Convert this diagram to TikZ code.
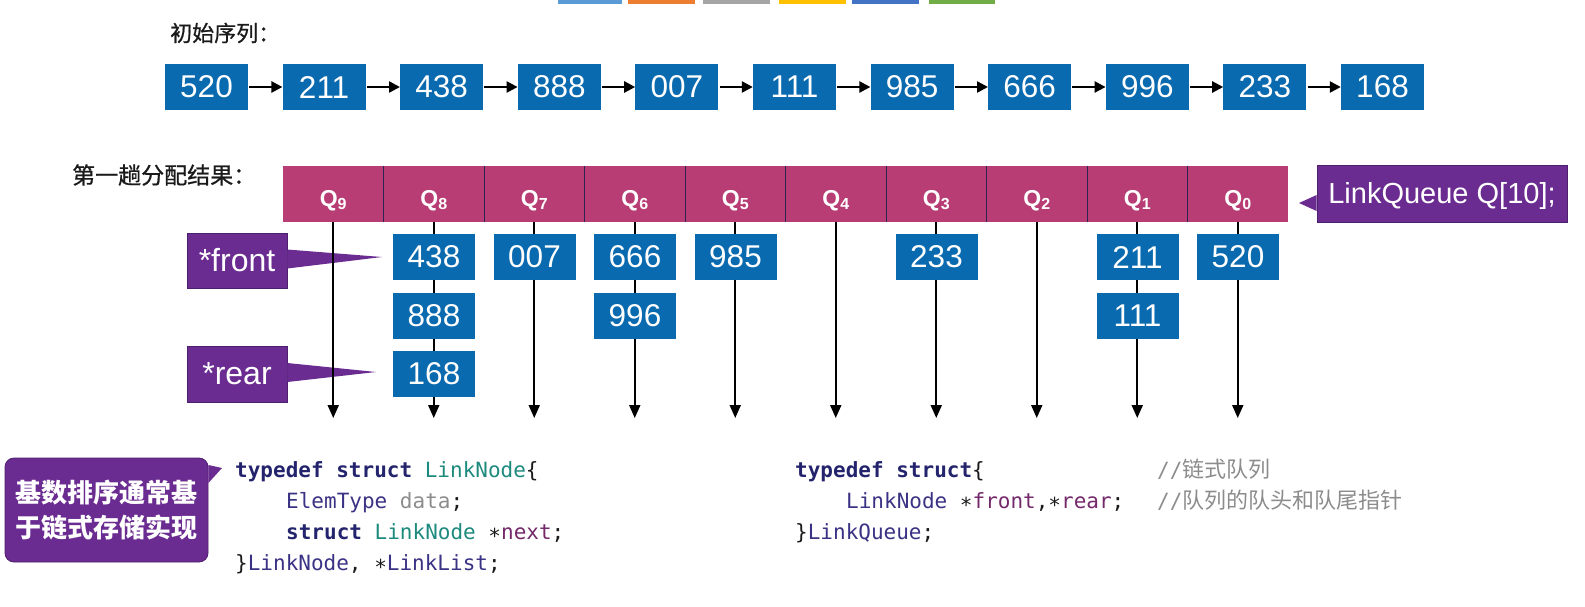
\documentclass[tikz,border=0pt]{standalone}
\usepackage{fontspec}
\setmainfont{Liberation Sans}
\newfontfamily\cjk{Noto Sans CJK SC}
\newfontfamily\cjkm[FakeBold=0.8]{Noto Sans CJK SC}
\newfontfamily\code{DejaVu Sans Mono}
\usetikzlibrary{arrows.meta}
\definecolor{boxblue}{HTML}{0A6AAF}
\definecolor{barpink}{HTML}{B83D74}
\definecolor{divline}{HTML}{2B2350}
\definecolor{calpurple}{HTML}{6B2C91}
\definecolor{calborder}{HTML}{4E1F6E}
\definecolor{kw}{HTML}{24246E}
\definecolor{tn}{HTML}{1D8A7E}
\definecolor{idc}{HTML}{3A3284}
\definecolor{mem}{HTML}{74296A}
\definecolor{cmt}{HTML}{8C8C8C}
\definecolor{txt}{HTML}{1A1A1A}
\definecolor{stripA}{HTML}{5B9BD5}
\definecolor{stripB}{HTML}{ED7D31}
\definecolor{stripC}{HTML}{A5A5A5}
\definecolor{stripD}{HTML}{FFC000}
\definecolor{stripE}{HTML}{4472C4}
\definecolor{stripF}{HTML}{70AD47}
\newcommand\qsub[1]{\raisebox{-3.5pt}{\fontsize{16}{16}\selectfont#1}}
\tikzset{
  seqbox/.style={fill=boxblue, text=white, minimum width=83pt, minimum height=46pt, inner sep=0pt, font=\fontsize{31.5}{31.5}\selectfont},
  hbox/.style={seqbox, minimum width=82pt},
  qcell/.style={fill=barpink, text=white, minimum width=100.5pt, minimum height=56pt, inner sep=0pt, text height=24pt, text depth=0pt, font=\bfseries\fontsize{23}{23}\selectfont},
  harrow/.style={line width=2.4pt, -{Triangle[length=11pt,width=11pt]}, shorten <=1pt},
  varrow/.style={line width=2pt, -{Triangle[length=13pt,width=11pt]}},
  callout/.style={fill=calpurple, draw=calborder, line width=0.8pt, text=white, inner sep=0pt},
  codeline/.style={anchor=base west, inner sep=0pt, text=txt, font=\code\fontsize{21}{21}\selectfont},
  cjklabel/.style={anchor=west, inner sep=0pt, text=txt, font=\cjkm\fontsize{22}{22}\selectfont},
}
\begin{document}
\begin{tikzpicture}[x=1pt,y=-1pt]
\useasboundingbox (0,0) rectangle (1585,606);
% top colour strips
\fill[stripA] (558,0) rectangle (622,4);
\fill[stripB] (628,0) rectangle (695,4);
\fill[stripC] (703,0) rectangle (770,4);
\fill[stripD] (779,0) rectangle (846,4);
\fill[stripE] (852,0) rectangle (919,4);
\fill[stripF] (929,0) rectangle (995,4);
% labels
\node[cjklabel] (lab1) at (170,33) {初始序列：};
\node[cjklabel, font=\cjkm\fontsize{23}{23}\selectfont] (lab2) at (72,175) {第一趟分配结果：};
% initial sequence
\foreach \v [count=\i from 0] in {520,211,438,888,007,111,985,666,996,233,168}
  \node[seqbox] (s\i) at (206.5+117.6*\i,87) {\v};
\foreach \i [evaluate=\i as \j using int(\i+1)] in {0,...,9}
  \draw[harrow] (s\i) -- (s\j);
% queue bar
\foreach \k [count=\i from 0] in {9,8,7,6,5,4,3,2,1,0}
  \node[qcell] (q\k) at (333.25+100.5*\i,194) {Q\qsub{\k}};
\foreach \k in {9,8,7,6,5,4,3,2,1}
  \draw[divline, line width=1pt] (q\k.north east) -- (q\k.south east);
% LinkQueue callout
\node[callout, minimum width=250pt, minimum height=57pt, text height=20.5pt, text depth=0pt, font=\fontsize{29}{29}\selectfont] (lq) at (1442,193.5) {LinkQueue Q[10];};
\coordinate (lqtip) at (1299,203);
\fill[calpurple] ([yshift=-1.5pt]lq.west) -- (lqtip) -- ([yshift=-17.5pt]lq.west) -- cycle;
% front / rear callouts
\node[callout, minimum width=100pt, minimum height=55pt, font=\fontsize{32}{32}\selectfont] (front) at (237,260.5) {*front};
\node[callout, minimum width=100pt, minimum height=56pt, font=\fontsize{32}{32}\selectfont] (rear) at (237,374) {*rear};
\coordinate (ftip) at (382,257);
\coordinate (rtip) at (376,372);
\fill[calpurple] ([yshift=11pt]front.east) -- (ftip) -- ([yshift=-8pt]front.east) -- cycle;
\fill[calpurple] ([yshift=11pt]rear.east) -- (rtip) -- ([yshift=-8pt]rear.east) -- cycle;
% vertical arrows
\foreach \k [count=\i from 0] in {9,8,7,6,5,4,3,2,1,0} {
  \coordinate (e\k) at (333.25+100.5*\i,418);
  \draw[varrow] (q\k.south) -- (e\k);
}
% queue contents
\node[hbox] (b8a) at (434,257) {438};
\node[hbox] (b8b) at (434,315.5) {888};
\node[hbox] (b8c) at (434,374) {168};
\node[hbox] (b7a) at (534.5,257) {007};
\node[hbox] (b6a) at (635,257) {666};
\node[hbox] (b6b) at (635,315.5) {996};
\node[hbox] (b5a) at (735.5,257) {985};
\node[hbox] (b3a) at (936.5,257) {233};
\node[hbox] (b1a) at (1137.5,257) {211};
\node[hbox] (b1b) at (1137.5,315.5) {111};
\node[hbox] (b0a) at (1238,257) {520};
% bottom callout
\node[callout, minimum width=203pt, minimum height=104pt, rounded corners=9pt, align=center, font=\cjk\bfseries\fontsize{26}{35}\selectfont] (bc) at (106.5,510) {基数排序通常基\\于链式存储实现};
\coordinate (bctip) at (222,468);
\fill[calpurple] ([yshift=45pt]bc.east) -- (bctip) -- ([yshift=27pt]bc.east) -- cycle;
% code left
\node[codeline] (c1) at (235,477) {{\bfseries\color{kw}typedef struct} {\color{tn}LinkNode}\{};
\node[codeline] (c2) at (286,508) {{\color{idc}ElemType} {\color{cmt}data};};
\node[codeline] (c3) at (286,539) {{\bfseries\color{kw}struct} {\color{tn}LinkNode} ∗{\color{mem}next};};
\node[codeline] (c4) at (235,570) {\}{\color{idc}LinkNode}, ∗{\color{idc}LinkList};};
% code right
\node[codeline] (d1) at (795,477) {{\bfseries\color{kw}typedef struct}\{};
\node[codeline] (d2) at (846,508) {{\color{idc}LinkNode} ∗{\color{mem}front},∗{\color{mem}rear};};
\node[codeline] (d3) at (795,539) {\}{\color{idc}LinkQueue};};
\node[codeline, text=cmt] (m1) at (1157,477) {//{\cjk\fontsize{22}{22}\selectfont 链式队列}};
\node[codeline, text=cmt] (m2) at (1157,508) {//{\cjk\fontsize{22}{22}\selectfont 队列的队头和队尾指针}};
\end{tikzpicture}
\end{document}
